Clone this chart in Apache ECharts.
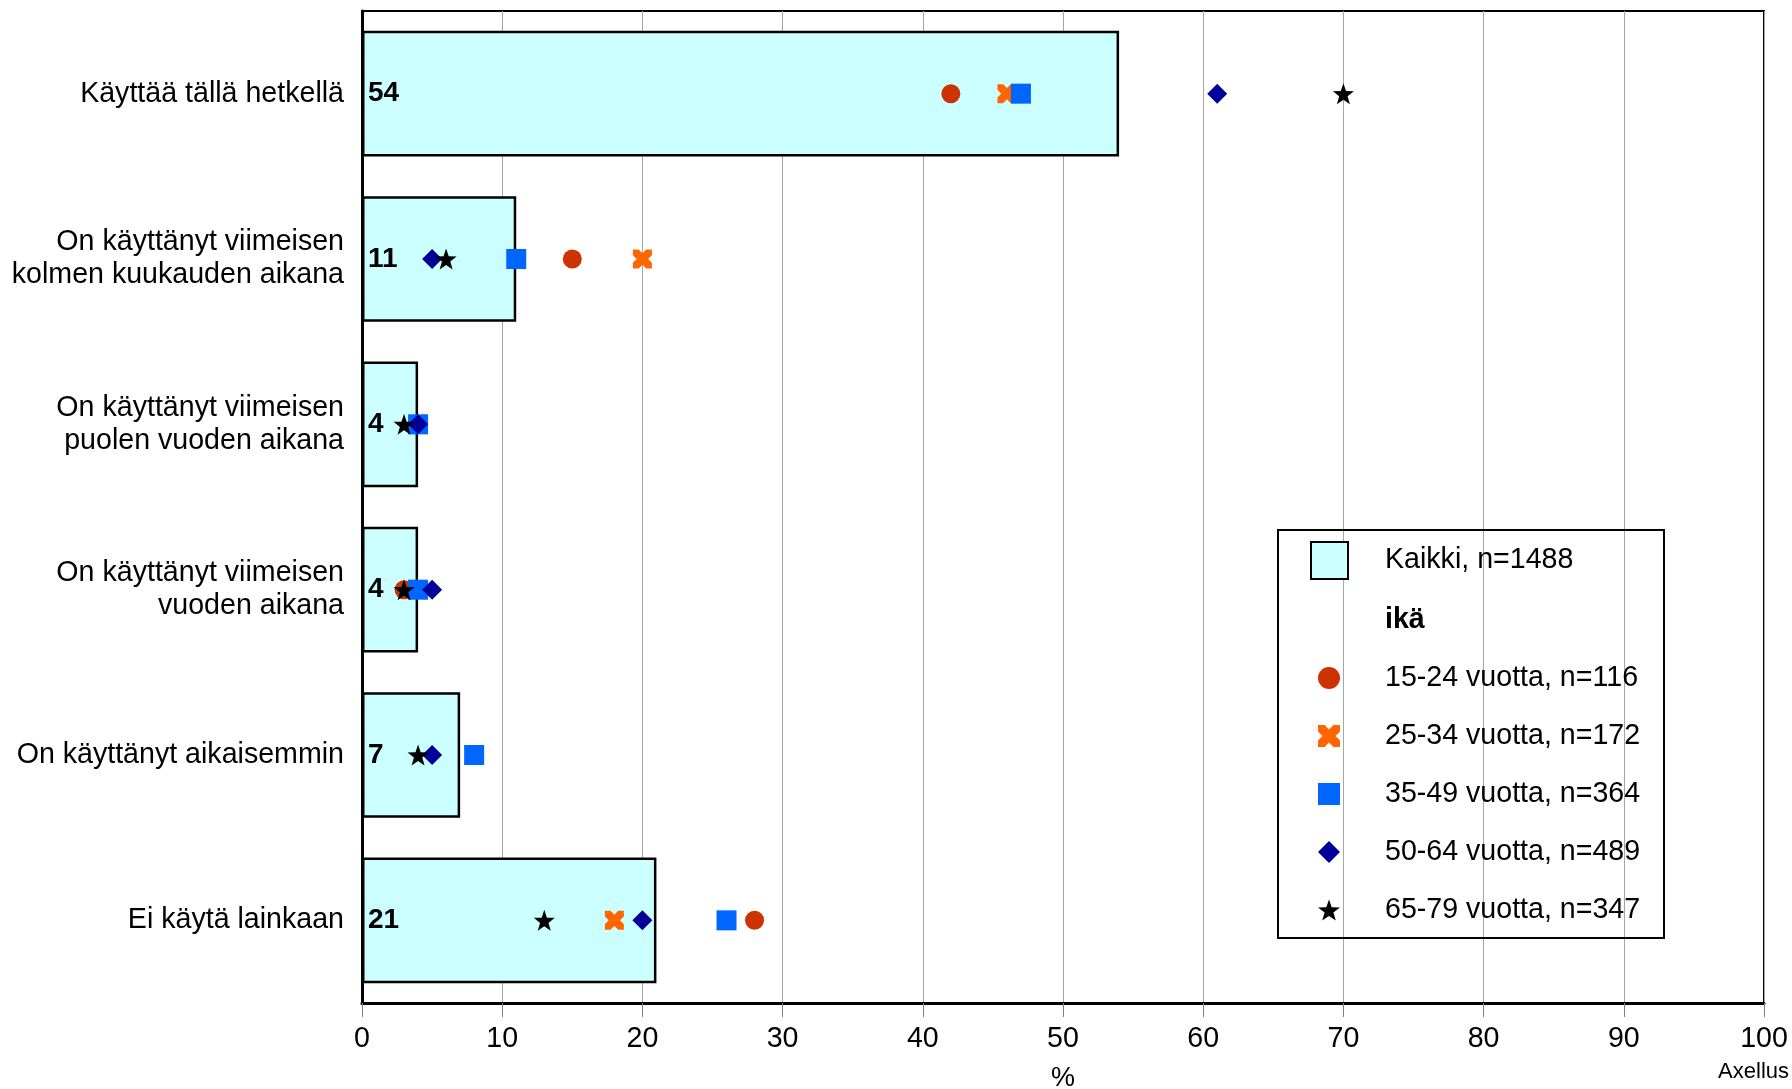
<!DOCTYPE html>
<html>
<head>
<meta charset="utf-8">
<script src="https://cdn.jsdelivr.net/npm/echarts@6/dist/echarts.min.js"></script>
<style>
html,body{margin:0;padding:0;background:#fff;}
#chart{width:1792px;height:1089px;}
</style>
</head>
<body>
<div id="chart"></div>
<script>
// ---- Data ----
const categories = [
  'Käyttää tällä hetkellä',
  'On käyttänyt viimeisen\nkolmen kuukauden aikana',
  'On käyttänyt viimeisen\npuolen vuoden aikana',
  'On käyttänyt viimeisen\nvuoden aikana',
  'On käyttänyt aikaisemmin',
  'Ei käytä lainkaan'
];
const kaikki   = [54, 11, 4, 4, 7, 21];
const age15_24 = [42, 15, 4, 3, 8, 28];
const age25_34 = [46, 20, 4, 4, 8, 18];
const age35_49 = [47, 11, 4, 4, 8, 26];
const age50_64 = [61, 5, 4, 5, 5, 20];
const age65_79 = [70, 6, 3, 3, 4, 13];
const xTicks = [0, 10, 20, 30, 40, 50, 60, 70, 80, 90, 100];

const names = {
  kaikki: 'Kaikki, n=1488',
  ika: 'ikä',
  a1: '15-24 vuotta, n=116',
  a2: '25-34 vuotta, n=172',
  a3: '35-49 vuotta, n=364',
  a4: '50-64 vuotta, n=489',
  a5: '65-79 vuotta, n=347'
};

const FONT = "'Liberation Sans', Arial, sans-serif";
const FS = 28.6;
const STAR = 'path://M0,-10 L2.35,-3.24 L9.51,-3.09 L3.80,1.24 L5.88,8.09 L0,4.2 L-5.88,8.09 L-3.80,1.24 L-9.51,-3.09 L-2.35,-3.24 Z';
const CROSS = 'path://M0,0 L3,0 L5,2 L7,0 L10,0 L10,3 L8,5 L10,7 L10,10 L7,10 L5,8 L3,10 L0,10 L0,7 L2,5 L0,3 Z';

function pts(vals) { return vals.map((v, i) => [v, categories[i]]); }
function scatter(name, vals, symbol, size, color) {
  return {
    name: name, type: 'scatter', data: pts(vals),
    symbol: symbol, symbolSize: size,
    itemStyle: { color: color, opacity: 1 },
    z: 3
  };
}

const chart = echarts.init(document.getElementById('chart'), null, { renderer: 'canvas' });
chart.setOption({
  animation: false,
  backgroundColor: '#ffffff',
  textStyle: { fontFamily: FONT },
  grid: {
    left: 362, right: 28, top: 11, bottom: 86,
    containLabel: false, outerBoundsMode: 'none',
    show: true, borderColor: '#000', borderWidth: 2, backgroundColor: 'transparent'
  },
  xAxis: {
    type: 'value', min: 0, max: 100, interval: 10,
    axisLine: { show: true, lineStyle: { color: '#000', width: 3 } },
    axisTick: { show: true, length: 14, lineStyle: { color: '#808080', width: 1 } },
    axisLabel: {
      margin: 22, color: '#000', fontSize: FS, fontFamily: FONT,
      formatter: v => (xTicks.indexOf(v) >= 0 ? String(v) : '')
    },
    splitLine: { show: true, lineStyle: { color: '#a6a6a6', width: 1 } },
    name: '%', nameLocation: 'middle', nameGap: 62,
    nameTextStyle: { color: '#000', fontSize: 27, fontFamily: FONT }
  },
  yAxis: {
    type: 'category', data: categories, inverse: true,
    axisLine: { show: true, lineStyle: { color: '#000', width: 3 } },
    axisTick: { show: false },
    axisLabel: {
      margin: 18, color: '#000', fontSize: FS, lineHeight: 33,
      fontFamily: FONT, align: 'right'
    },
    splitLine: { show: false }
  },
  legend: [
    {
      data: [{ name: names.kaikki, icon: 'rect' }],
      left: 1310, top: 541, orient: 'vertical', padding: 0,
      itemWidth: 37, itemHeight: 37, selectedMode: false,
      textStyle: { fontSize: FS, color: '#000', fontFamily: FONT, padding: [0, 0, 0, 32] }
    },
    {
      data: [
        { name: names.ika, icon: 'none', textStyle: { fontWeight: 'bold' } },
        { name: names.a1 }, { name: names.a2 }, { name: names.a3 },
        { name: names.a4 }, { name: names.a5 }
      ],
      left: 1318, top: 605, orient: 'vertical', padding: 0,
      itemWidth: 22, itemHeight: 22, itemGap: 28, selectedMode: false,
      textStyle: { fontSize: FS, lineHeight: 30, color: '#000', fontFamily: FONT, padding: [0, 0, 0, 40] }
    }
  ],
  graphic: [
    {
      type: 'rect', left: 1277, top: 529, z: 100, silent: true,
      shape: { width: 386, height: 408 },
      style: { fill: 'rgba(255,255,255,0)', stroke: '#000', lineWidth: 2 }
    },
    {
      type: 'rect', left: 1278, top: 530, z: -1, silent: true,
      shape: { width: 384, height: 406 },
      style: { fill: '#fff' }
    },
    {
      type: 'text', right: 3, top: 1061, silent: true,
      style: { text: 'Axellus', fontSize: 22, fill: '#000', font: '22px ' + FONT }
    }
  ],
  series: [
    {
      name: names.kaikki, type: 'bar', data: kaikki,
      barCategoryGap: '24%',
      itemStyle: { color: '#ccffff', borderColor: '#000', borderWidth: 2.5 },
      label: {
        show: true, position: 'insideLeft', distance: 6,
        color: '#000', fontSize: 28, fontWeight: 'bold', fontFamily: FONT
      },
      z: 2
    },
    { name: names.ika, type: 'scatter', data: [] },
    scatter(names.a1, age15_24, 'circle', 19, '#cc3300'),
    scatter(names.a2, age25_34, CROSS, 19, '#ff6600'),
    scatter(names.a3, age35_49, 'rect', 20, '#0066ff'),
    scatter(names.a4, age50_64, 'diamond', 20, '#000099'),
    scatter(names.a5, age65_79, STAR, 21, '#000000')
  ]
});
</script>
</body>
</html>
